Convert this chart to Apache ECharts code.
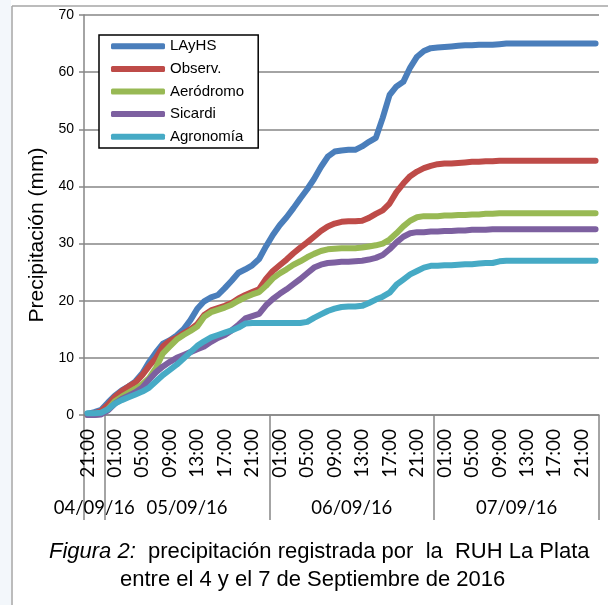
<!DOCTYPE html>
<html>
<head>
<meta charset="utf-8">
<script src="https://cdn.jsdelivr.net/npm/echarts@6/dist/echarts.min.js"></script>
<style>
  html, body { margin: 0; padding: 0; background: #fff; }
  #chart { width: 608px; height: 605px; }
</style>
</head>
<body>
<div id="chart"></div>
<script>
// dias y primera hora registrada de cada dia (datos horarios)
var days = ['04/09/16', '05/09/16', '06/09/16', '07/09/16'];
var firstHour = [21, 0, 0, 0];

var seriesNames = ['LAyHS', 'Observ.', 'Aeródromo', 'Sicardi', 'Agronomía'];

// precipitacion acumulada (mm), una entrada por hora
var layhs = [
  0.2, 0.5, 0.9, 2.2, 3.4, 4.3, 5.0, 5.9, 7.3, 9.3,
  11.0, 12.5, 13.1, 13.9, 15.0, 16.6, 18.6, 19.9, 20.6, 21.0,
  22.2, 23.5, 24.9, 25.5, 26.2, 27.3, 29.5, 31.5, 33.2, 34.6,
  36.2, 37.9, 39.5, 41.3, 43.4, 45.2, 46.1, 46.3, 46.4, 46.4,
  47.0, 47.8, 48.5, 52.0, 56.0, 57.5, 58.3, 60.8, 62.7, 63.7,
  64.2, 64.3, 64.4, 64.5, 64.6, 64.7, 64.7, 64.8, 64.8, 64.8,
  64.9, 65.0, 65.0, 65.0, 65.0, 65.0, 65.0, 65.0, 65.0, 65.0,
  65.0, 65.0, 65.0, 65.0, 65.0
];
var observ = [
  0.1, 0.3, 0.7, 1.8, 3.2, 4.2, 5.0, 5.7, 7.0, 8.6,
  10.0, 12.0, 13.0, 13.5, 14.3, 15.0, 15.9, 17.5, 18.3, 18.7,
  19.1, 19.6, 20.4, 21.0, 21.5, 22.0, 23.8, 25.2, 26.2, 27.2,
  28.3, 29.3, 30.2, 31.2, 32.2, 33.0, 33.5, 33.8, 33.9, 33.9,
  34.0, 34.5, 35.2, 35.8, 37.0, 39.0, 40.5, 41.8, 42.6, 43.2,
  43.6, 43.9, 44.0, 44.0, 44.1, 44.2, 44.3, 44.3, 44.4, 44.4,
  44.5, 44.5, 44.5, 44.5, 44.5, 44.5, 44.5, 44.5, 44.5, 44.5,
  44.5, 44.5, 44.5, 44.5, 44.5
];
var aerodromo = [
  0.0, 0.0, 0.2, 1.0, 2.4, 3.2, 3.9, 4.6, 5.4, 6.5,
  8.3, 10.8, 12.0, 13.2, 14.0, 14.7, 15.5, 17.2, 18.0, 18.4,
  18.8, 19.3, 20.0, 20.6, 21.1, 21.5, 22.6, 23.9, 24.8, 25.5,
  26.3, 26.9, 27.6, 28.2, 28.7, 29.0, 29.1, 29.2, 29.2, 29.2,
  29.3, 29.5, 29.7, 30.0, 30.7, 31.8, 33.0, 34.0, 34.6, 34.8,
  34.8, 34.8, 34.9, 34.9, 35.0, 35.0, 35.1, 35.1, 35.2, 35.2,
  35.3, 35.3, 35.3, 35.3, 35.3, 35.3, 35.3, 35.3, 35.3, 35.3,
  35.3, 35.3, 35.3, 35.3, 35.3
];
var sicardi = [
  0.0, 0.0, 0.1, 0.8, 2.0, 2.8, 3.4, 4.0, 4.8, 6.2,
  7.5, 8.5, 9.3, 10.0, 10.5, 11.0, 11.5, 12.0, 12.8, 13.5,
  14.0, 14.8, 15.8, 16.9, 17.3, 17.7, 19.2, 20.3, 21.2, 22.0,
  22.9, 23.8, 24.8, 25.8, 26.3, 26.6, 26.7, 26.8, 26.8, 26.9,
  27.0, 27.2, 27.5, 28.0, 29.0, 30.2, 31.2, 31.8, 32.0, 32.0,
  32.1, 32.1, 32.2, 32.2, 32.3, 32.3, 32.4, 32.4, 32.4, 32.5,
  32.5, 32.5, 32.5, 32.5, 32.5, 32.5, 32.5, 32.5, 32.5, 32.5,
  32.5, 32.5, 32.5, 32.5, 32.5
];
var agronomia = [
  0.3, 0.3, 0.4, 1.0, 2.0, 2.6, 3.1, 3.6, 4.1, 4.8,
  5.9, 7.0, 7.9, 8.8, 9.9, 11.0, 12.1, 12.9, 13.6, 14.0,
  14.4, 14.8, 15.3, 16.0, 16.1, 16.1, 16.1, 16.1, 16.1, 16.1,
  16.1, 16.1, 16.3, 17.0, 17.6, 18.2, 18.6, 18.9, 19.0, 19.0,
  19.1, 19.6, 20.2, 20.7, 21.4, 22.8, 23.7, 24.6, 25.2, 25.8,
  26.1, 26.1, 26.2, 26.2, 26.3, 26.4, 26.4, 26.5, 26.6, 26.6,
  26.9, 27.0, 27.0, 27.0, 27.0, 27.0, 27.0, 27.0, 27.0, 27.0,
  27.0, 27.0, 27.0, 27.0, 27.0
];

var colors = ['#4A7EBB', '#BE4B48', '#98B954', '#7D60A0', '#46AAC5'];
var gray = '#868686';

// categorias horarias y limites de cada dia
var hours = [];
var dayStart = [];
for (var d = 0; d < days.length; d++) {
  dayStart.push(hours.length);
  for (var h = firstHour[d]; h < 24; h++) {
    hours.push((h < 10 ? '0' : '') + h + ':00');
  }
}
dayStart.push(hours.length);
var dayMid = [];
for (var k = 0; k < days.length; k++) {
  dayMid.push((dayStart[k] + dayStart[k + 1]) / 2);
}

var allData = [layhs, observ, aerodromo, sicardi, agronomia];
var series = allData.map(function (arr, i) {
  return {
    name: seriesNames[i],
    type: 'line',
    xAxisIndex: 0,
    data: arr,
    symbol: 'none',
    showSymbol: false,
    lineStyle: { width: 6, color: colors[i], cap: 'round', join: 'round' },
    itemStyle: { color: colors[i] }
  };
});

var chart = echarts.init(document.getElementById('chart'));
var option = {
  animation: false,
  backgroundColor: '#fff',
  color: colors,
  title: [
    {
      text: '{i|Figura 2:}  precipitación registrada por  la  RUH La Plata',
      left: 49, top: 541, padding: 0,
      textStyle: {
        fontFamily: 'Liberation Sans', fontSize: 22, fontWeight: 'normal', color: '#000',
        rich: { i: { fontFamily: 'Liberation Sans', fontSize: 22, fontStyle: 'italic', color: '#000' } }
      }
    },
    {
      text: 'entre el 4 y el 7 de Septiembre de 2016',
      left: 120, top: 569, padding: 0,
      textStyle: { fontFamily: 'Liberation Sans', fontSize: 22, fontWeight: 'normal', color: '#000' }
    }
  ],
  legend: {
    data: seriesNames,
    orient: 'vertical',
    left: 99, top: 35,
    padding: [0, 14, 0, 12],
    icon: 'roundRect',
    itemWidth: 54, itemHeight: 6, itemGap: 0,
    borderColor: '#000', borderWidth: 1.5, backgroundColor: '#fff',
    textStyle: { fontFamily: 'Liberation Sans', fontSize: 15, lineHeight: 22.6, color: '#000' }
  },
  grid: { left: 84, right: 9, top: 15, bottom: 190, containLabel: false },
  xAxis: [
    {
      type: 'category',
      data: hours,
      boundaryGap: true,
      axisLine: { lineStyle: { color: gray, width: 1.5 } },
      axisTick: { show: false },
      axisLabel: {
        interval: function (i) { return i % 4 === 0; },
        rotate: 90, margin: 14,
        fontFamily: 'Lato', fontSize: 19, color: '#000'
      },
      splitLine: { show: false }
    },
    {
      type: 'value',
      position: 'bottom',
      min: 0, max: hours.length,
      axisLine: { show: false },
      splitLine: { show: false },
      axisTick: {
        show: true, length: 105, customValues: dayStart,
        lineStyle: { color: gray, width: 1.5 }
      },
      axisLabel: {
        customValues: dayMid,
        margin: 84,
        fontFamily: 'Lato', fontSize: 18.5, color: '#000',
        formatter: function (v) {
          var j = dayMid.indexOf(v);
          return j >= 0 ? days[j] : '';
        }
      }
    }
  ],
  yAxis: {
    type: 'value',
    min: 0, max: 70, interval: 10,
    name: 'Precipitación (mm)',
    nameLocation: 'middle',
    nameGap: 34,
    nameTextStyle: { fontFamily: 'Liberation Sans', fontSize: 21, color: '#000', padding: [0, 40, 0, 0] },
    axisLine: { show: true, lineStyle: { color: gray, width: 1.5 } },
    axisTick: { show: true, length: 5, lineStyle: { color: gray, width: 1.5 } },
    axisLabel: { fontFamily: 'Liberation Sans', fontSize: 14, color: '#000', margin: 10 },
    splitLine: { lineStyle: { color: gray, width: 1.5 } }
  },
  graphic: [
    { type: 'rect', shape: { x: 0, y: 0, width: 11, height: 605 }, style: { fill: '#f3f7fb' }, silent: true },
    { type: 'line', shape: { x1: 12, y1: 6, x2: 12, y2: 605 }, style: { stroke: '#a6a6a6', lineWidth: 1.5 }, silent: true },
    { type: 'line', shape: { x1: 12, y1: 6, x2: 608, y2: 6 }, style: { stroke: '#a6a6a6', lineWidth: 1.5 }, silent: true }
  ],
  series: series
};
chart.setOption(option);
</script>
</body>
</html>
